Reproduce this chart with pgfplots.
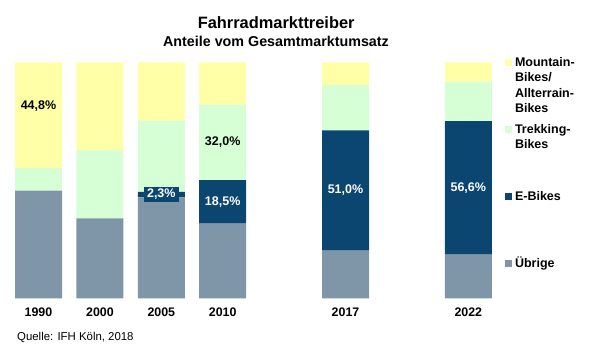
\documentclass[border=0pt]{standalone}
\usepackage{pgfplots}
\pgfplotsset{compat=1.18}
\usepackage{fontspec}
\setmainfont{Liberation Sans}
\definecolor{cgrey}{HTML}{7F95A8}
\definecolor{cblue}{HTML}{0B4670}
\definecolor{cgreen}{HTML}{D6FFD6}
\definecolor{cyellow}{HTML}{FFFFA8}
\newcommand\legtext[1]{\rule{0pt}{67pt}\parbox[t]{80pt}{\raggedright #1}}
\begin{document}
\begin{tikzpicture}
\useasboundingbox (-7.8pt,-59.7pt) rectangle (591.2pt,298.3pt);
\begin{axis}[
  at={(0pt,0pt)}, anchor=south west,
  scale only axis, width=491.2pt, height=236pt,
  xmin=-0.5, xmax=7.5, ymin=0, ymax=100,
  ybar stacked, bar width=47pt,
  axis line style={draw=none}, tick style={draw=none},
  ytick=\empty,
  xtick={0,1,2,3,5,7},
  xticklabels={1990,2000,2005,2010,2017,2022},
  xticklabel style={font=\bfseries\fontsize{12.4}{14}\selectfont, yshift=-6pt},
  reverse legend,
  legend style={at={(1,0)}, anchor=south west, xshift=6pt, yshift=30.5pt,
    draw=none, fill=none, inner sep=0pt, row sep=0pt,
    font=\bfseries\fontsize{12.5}{15.3}\selectfont,
    cells={anchor=base west},
    nodes={inner sep=0pt, text depth=0pt}},
  legend image code/.code={\fill[#1] (0pt,1pt) rectangle (6.3pt,7.3pt);},
  every axis plot/.append style={draw=none},
]
\addplot[fill=cgrey] coordinates {(0,45.6) (1,33.9) (2,42.8) (3,31.6) (5,20.2) (7,18.5)};
\addlegendentry{\legtext{\hspace{3.5pt}Übrige}}
\addplot[fill=cblue] coordinates {(0,0) (1,0) (2,2.3) (3,18.5) (5,51.0) (7,56.6)};
\addlegendentry{\legtext{\hspace{3.5pt}E-Bikes}}
\addplot[fill=cgreen] coordinates {(0,9.6) (1,28.9) (2,30.2) (3,32.0) (5,19.2) (7,16.7)};
\addlegendentry{\legtext{\hspace{3.5pt}Trekking-\\\hspace*{3.5pt}Bikes}}
\addplot[fill=cyellow] coordinates {(0,44.8) (1,37.2) (2,24.7) (3,17.9) (5,9.6) (7,8.2)};
\addlegendentry{\legtext{\hspace{3.5pt}Mountain-\\\hspace*{3.5pt}Bikes/\\\hspace*{3.5pt}Allterrain-\\\hspace*{3.5pt}Bikes}}
\end{axis}
\begin{axis}[
  at={(0pt,0pt)}, anchor=south west,
  scale only axis, width=491.2pt, height=236pt,
  xmin=-0.5, xmax=7.5, ymin=0, ymax=100,
  hide axis,
  point meta=explicit symbolic,
  nodes near coords,
  every node near coord/.append style={anchor=center, font=\bfseries\fontsize{12.5}{14}\selectfont},
]
\addplot[only marks, mark=none, draw=none] coordinates {(0,81.3) [44,8\%] (3,66.1) [32,0\%]};
\addplot[only marks, mark=none, draw=none,
  every node near coord/.append style={text=white, fill=cblue, inner xsep=3pt, inner ysep=2.5pt}]
  coordinates {(2,43.95) [2,3\%] (3,40.85) [18,5\%] (5,45.7) [51,0\%] (7,46.8) [56,6\%]};
\end{axis}
\node[font=\bfseries\fontsize{16.4}{19}\selectfont, anchor=base] at (268.4pt,269.6pt) {Fahrradmarkttreiber};
\node[font=\bfseries\fontsize{14.3}{17}\selectfont, anchor=base] at (268.2pt,251.6pt) {Anteile vom Gesamtmarktumsatz};
\node[font=\fontsize{11.4}{13}\selectfont, anchor=base west, inner sep=0pt] at (9.2pt,-42.4pt) {Quelle: IFH Köln, 2018};
\end{tikzpicture}
\end{document}
